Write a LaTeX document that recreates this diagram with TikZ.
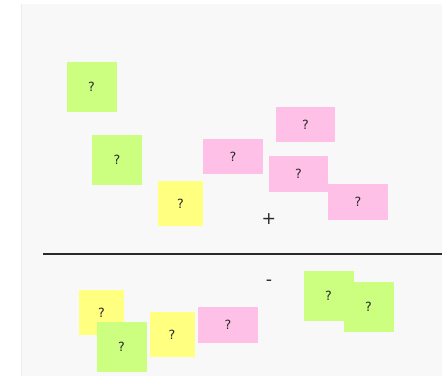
\documentclass[tikz,border=0pt]{standalone}
\usepackage{fontspec}
\setmainfont{DejaVu Sans}
\definecolor{bgc}{HTML}{F8F8F8}
\definecolor{edgec}{HTML}{ECECEC}
\definecolor{sgreen}{HTML}{CCFF80}
\definecolor{syellow}{HTML}{FFFF80}
\definecolor{spink}{HTML}{FFC0E8}
\definecolor{inkc}{HTML}{2A2A2A}
\begin{document}
\begin{tikzpicture}[x=0.75pt,y=-0.75pt,
  note/.style={inner sep=0pt,text=inkc,font=\fontsize{9.5}{11}\selectfont},
  sqnote/.style={note,minimum width=37.5pt,minimum height=37.5pt},
  gnote/.style={sqnote,fill=sgreen},
  ynote/.style={note,fill=syellow,minimum width=33.75pt,minimum height=33.75pt},
  pnote/.style={note,fill=spink,minimum width=44.5pt,minimum height=26.5pt},
  sign/.style={inner sep=0pt,text=inkc,font=\fontsize{13}{15}\selectfont}]
\useasboundingbox (0,0) rectangle (442,376);
\fill[white] (0,0) rectangle (442,376);
\fill[bgc] (21,4) rectangle (442,376);
\draw[edgec,line width=1pt] (21.5,4) -- (21.5,376);
% top half
\node[gnote] (g1) at (91.5,87) {?};
\node[gnote] (g2) at (117,160) {?};
\node[ynote] (y1) at (180.5,203.5) {?};
\node[pnote] (p1) at (305.5,124.5) {?};
\node[pnote] (p2) at (233,156.5) {?};
\node[pnote] (p3) at (298.5,174) {?};
\node[pnote] (p4) at (358,202) {?};
\node[sign] (plus) at (269,219) {+};
% divider
\coordinate (dl) at (43,254);
\coordinate (dr) at (442,254);
\draw[inkc,line width=1.5pt] (dl) -- (dr);
% bottom half
\node[sign] (minus) at (269,282.5) {-};
\node[ynote] (y2) at (101.5,312.5) {?};
\node[gnote] (g3) at (121.5,346.5) {?};
\node[ynote] (y3) at (172,334.5) {?};
\node[pnote] (p5) at (228,325) {?};
\node[gnote] (g4) at (328.5,296) {?};
\node[gnote] (g5) at (368.5,306.5) {?};
\end{tikzpicture}
\end{document}
